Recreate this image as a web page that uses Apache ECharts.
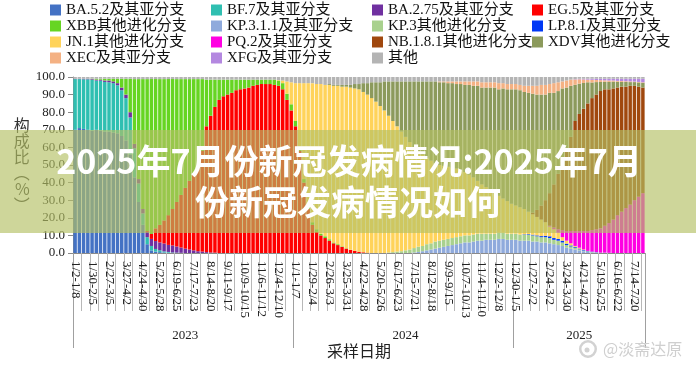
<!DOCTYPE html>
<html><head><meta charset="utf-8">
<script src="https://cdn.jsdelivr.net/npm/echarts@6/dist/echarts.min.js"></script>
<style>html,body{margin:0;padding:0;background:#fff}#c{width:696px;height:365px}</style>
</head><body><div id="c"></div>
<script>
const weeks = [
'1/2-1/8','1/9-1/15','1/16-1/22','1/23-1/29','1/30-2/5','2/6-2/12','2/13-2/19','2/20-2/26','2/27-3/5','3/6-3/12',
'3/13-3/19','3/20-3/26','3/27-4/2','4/3-4/9','4/10-4/16','4/17-4/23','4/24-4/30','5/1-5/7','5/8-5/14','5/15-5/21',
'5/22-5/28','5/29-6/4','6/5-6/11','6/12-6/18','6/19-6/25','6/26-7/2','7/3-7/9','7/10-7/16','7/17-7/23','7/24-7/30',
'7/31-8/6','8/7-8/13','8/14-8/20','8/21-8/27','8/28-9/3','9/4-9/10','9/11-9/17','9/18-9/24','9/25-10/1','10/2-10/8',
'10/9-10/15','10/16-10/22','10/23-10/29','10/30-11/5','11/6-11/12','11/13-11/19','11/20-11/26','11/27-12/3','12/4-12/10','12/11-12/17',
'12/18-12/24','12/25-12/31','1/1-1/7','1/8-1/14','1/15-1/21','1/22-1/28','1/29-2/4','2/5-2/11','2/12-2/18','2/19-2/25',
'2/26-3/3','3/4-3/10','3/11-3/17','3/18-3/24','3/25-3/31','4/1-4/7','4/8-4/14','4/15-4/21','4/22-4/28','4/29-5/5',
'5/6-5/12','5/13-5/19','5/20-5/26','5/27-6/2','6/3-6/9','6/10-6/16','6/17-6/23','6/24-6/30','7/1-7/7','7/8-7/14',
'7/15-7/21','7/22-7/28','7/29-8/4','8/5-8/11','8/12-8/18','8/19-8/25','8/26-9/1','9/2-9/8','9/9-9/15','9/16-9/22',
'9/23-9/29','9/30-10/6','10/7-10/13','10/14-10/20','10/21-10/27','10/28-11/3','11/4-11/10','11/11-11/17','11/18-11/24','11/25-12/1',
'12/2-12/8','12/9-12/15','12/16-12/22','12/23-12/29','12/30-1/5','1/6-1/12','1/13-1/19','1/20-1/26','1/27-2/2','2/3-2/9',
'2/10-2/16','2/17-2/23','2/24-3/2','3/3-3/9','3/10-3/16','3/17-3/23','3/24-3/30','3/31-4/6','4/7-4/13','4/14-4/20',
'4/21-4/27','4/28-5/4','5/5-5/11','5/12-5/18','5/19-5/25','5/26-6/1','6/2-6/8','6/9-6/15','6/16-6/22','6/23-6/29',
'6/30-7/6','7/7-7/13','7/14-7/20','7/21-7/27','7/28-8/3'];
const years = ['2023','2024','2025'];
const yearWeeks = [52, 52, 31];
const names = ['BA.5.2及其亚分支','BF.7及其亚分支','BA.2.75及其亚分支','EG.5及其亚分支',
 'XBB其他进化分支','KP.3.1.1及其亚分支','KP.3其他进化分支','LP.8.1及其亚分支',
 'JN.1其他进化分支','PQ.2及其亚分支','NB.1.8.1其他进化分支','XDV其他进化分支',
 'XEC及其亚分支','XFG及其亚分支','其他'];
const colors = ['#4472C4','#2FBFB1','#7030A0','#FF0000','#66D522','#8FAADC','#A9D18E','#0038F5',
 '#FFD35A','#FF00E2','#A0480E','#8C9A5C','#F4B183','#B488E0','#B4B4B4'];

const BA52 = [
70,71,70.5,70,69.5,70,69.5,69,69,68.5,
68,66.5,64,56,43,29,16,5,1.5,0.8,
0.5,0.3,0.2,0,0,0,0,0,0,0,
0,0,0,0,0,0,0,0,0,0, 0,0,0,0,0,0,0,0,0,0, 0,0,0,0,0,0,0,0,0,0,
0,0,0,0,0,0,0,0,0,0, 0,0,0,0,0,0,0,0,0,0, 0,0,0,0,0,0,0,0,0,0,
0,0,0,0,0,0,0,0,0,0, 0,0,0,0,0,0,0,0,0,0, 0,0,0,0,0,0,0,0,0,0,
0,0,0,0,0,0,0,0,0,0, 0,0,0,0,0];
const BF7 = [
28.8,27.8,28.2,28.7,28.9,28,28.4,28.2,28,28,
27.3,26,24,21,16.5,10.5,6.5,4,2.5,1.5,
1,0.6,0.4,0.3,0.2,0.1,0,0,0,0,
0,0,0,0,0,0,0,0,0,0, 0,0,0,0,0,0,0,0,0,0, 0,0,0,0,0,0,0,0,0,0,
0,0,0,0,0,0,0,0,0,0, 0,0,0,0,0,0,0,0,0,0, 0,0,0,0,0,0,0,0,0,0,
0,0,0,0,0,0,0,0,0,0, 0,0,0,0,0,0,0,0,0,0, 0,0,0,0,0,0,0,0,0,0,
0,0,0,0,0,0,0,0,0,0, 0,0,0,0,0];
const BA275 = [
0.2,0.2,0.3,0.3,0.4,0.5,0.6,0.8,1,1,
1.2,1.5,2,3,2.5,2.5,2.5,3,4,4.5,
4.5,4.5,4,4,3.5,3,2.5,2,1.5,1,
0.8,0.5,0.3,0.2,0,0,0,0,0,0,
0,0,0,0,0,0,0,0,0,0, 0,0,0,0,0,0,0,0,0,0,
0,0,0,0,0,0,0,0,0,0, 0,0,0,0,0,0,0,0,0,0, 0,0,0,0,0,0,0,0,0,0,
0,0,0,0,0,0,0,0,0,0, 0,0,0,0,0,0,0,0,0,0, 0,0,0,0,0,0,0,0,0,0,
0,0,0,0,0,0,0,0,0,0, 0,0,0,0,0];
const EG5 = [
0,0,0,0,0,0,0,0,0,0,
0,0,0,0,0,0,0,0.5,3,7.2,
10,13.1,16.9,20.7,25.3,29.9,34.5,39,43.5,48.5,
57.2,71.5,77.7,82.8,87,89,90,91,92.5,93,
93.5,94,95,95.5,96,96,96,95.5,95,93,
87,81,72,58,40,25,16,12,10,8.5,
7,5.5,4.5,3.5,2.5,1.8,1.2,0.7,0.4,0.2,
0,0,0,0,0,0,0,0,0,0, 0,0,0,0,0,0,0,0,0,0, 0,0,0,0,0,0,0,0,0,0,
0,0,0,0,0,0,0,0,0,0, 0,0,0,0,0,0,0,0,0,0, 0,0,0,0,0,0,0,0,0,0,
0,0,0,0,0];
const XBB = [
0,0,0,0,0.2,0.5,0.5,1,1,1.5,
2.5,5,9,19,36.8,56.8,73.8,86.3,87.8,84.8,
82.8,80.3,77.3,73.8,69.8,65.8,61.8,57.8,53.8,49.3,
40.8,26.5,20.5,15.5,11.5,9.5,8.5,7.5,6,5.5,
5,4.5,3.5,3,2.5,2.5,2.5,3,3,3.5,
3.5,3.5,3,2.5,2,2,1.5,1.5,1,1,
0.8,0.5,0.5,0.3,0.2,0,0,0,0,0,
0,0,0,0,0,0,0,0,0,0, 0,0,0,0,0,0,0,0,0,0, 0,0,0,0,0,0,0,0,0,0,
0,0,0,0,0,0,0,0,0,0, 0,0,0,0,0,0,0,0,0,0, 0,0,0,0,0,0,0,0,0,0,
0,0,0,0,0];
const KP311 = [
0,0,0,0,0,0,0,0,0,0, 0,0,0,0,0,0,0,0,0,0, 0,0,0,0,0,0,0,0,0,0,
0,0,0,0,0,0,0,0,0,0, 0,0,0,0,0,0,0,0,0,0, 0,0,0,0,0,0,0,0,0,0,
0,0,0,0,0,0,0,0,0,0, 0,0,0,0,0,0,0,0,0,0,
0.3,0.6,1,1.5,2,2.5,3,3.5,4,4.5,
5,5.5,6,6,6.5,7,7,7.5,7.5,7.5,
8,8,7.5,7.5,7.5,7,7,7,6.5,6.5,
6,6,5.5,5,4.5,4,3,2.5,2,1.5,
1,0.6,0.4,0.3,0.2,0.2,0.1,0,0,0,
0,0,0,0,0];
const KP3 = [
0,0,0,0,0,0,0,0,0,0, 0,0,0,0,0,0,0,0,0,0, 0,0,0,0,0,0,0,0,0,0,
0,0,0,0,0,0,0,0,0,0, 0,0,0,0,0,0,0,0,0,0, 0,0,0,0,0,0,0,0,0,0,
0,0,0,0,0,0,0,0,0,0,
0,0,0,0,0.3,0.5,0.8,1,1.5,2,
2.5,3,3,3.5,3.5,4,4,4,4,4,
4,4,4,4,4,4,4,3.5,3.5,3.5,
3.5,3.5,3.5,3.5,3.5,3.5,3.5,3.5,3.5,3,
3,3,3,2.5,2.5,2,1.5,1.2,1,0.6,
0.4,0.3,0.2,0.1,0,0,0,0,0,0,
0,0,0,0,0];
const LP81 = [
0,0,0,0,0,0,0,0,0,0, 0,0,0,0,0,0,0,0,0,0, 0,0,0,0,0,0,0,0,0,0,
0,0,0,0,0,0,0,0,0,0, 0,0,0,0,0,0,0,0,0,0, 0,0,0,0,0,0,0,0,0,0,
0,0,0,0,0,0,0,0,0,0, 0,0,0,0,0,0,0,0,0,0, 0,0,0,0,0,0,0,0,0,0,
0,0,0,0,0,0,0,0,0,0,
0,0,0,0,0,0,0.2,0.3,0.4,0.5,
0.6,0.8,1,1,1,1,0.8,0.6,0.5,0.4,
0.3,0.2,0.2,0.1,0,0,0,0,0,0,
0,0,0,0,0];
const JN1 = [
0,0,0,0,0,0,0,0,0,0, 0,0,0,0,0,0,0,0,0,0, 0,0,0,0,0,0,0,0,0,0,
0,0,0,0,0,0,0,0,0,0,
0,0,0,0,0,0,0,0,0.3,1.5,
7,12.5,21.5,36,54.5,69.5,79,82.5,85,86,
87.7,89,90,90.7,91.8,92.2,92.3,92.3,91.1,89.8,
88,86,83.5,81,77.7,74.5,71.2,68,64.5,61,
57.2,54.4,52,49,47,44.5,43,42,41,40,
39,37.5,36,34.5,32.5,30,28,26.5,25,23,
21,19.5,18.5,17,16,15.5,14.3,12.7,11.6,10.5,
9.4,7.7,5.5,5,3.5,2,1.7,1.2,0.5,0.5,
0.3,0.1,0,0,0,0,0,0,0,0,
0,0,0,0,0];
const PQ2 = [
0,0,0,0,0,0,0,0,0,0, 0,0,0,0,0,0,0,0,0,0, 0,0,0,0,0,0,0,0,0,0,
0,0,0,0,0,0,0,0,0,0, 0,0,0,0,0,0,0,0,0,0, 0,0,0,0,0,0,0,0,0,0,
0,0,0,0,0,0,0,0,0,0, 0,0,0,0,0,0,0,0,0,0, 0,0,0,0,0,0,0,0,0,0,
0,0,0,0,0,0,0,0,0,0, 0,0,0,0,0,0,0,0,0,0,
0,0,0.5,1,2,4,5.5,7,8.5,9.5,
10.5,11.3,12.2,13,13.8,15.3,16.9,19,21.5,23.5,
25.5,27.5,30,32,34];
const NB181 = [
0,0,0,0,0,0,0,0,0,0, 0,0,0,0,0,0,0,0,0,0, 0,0,0,0,0,0,0,0,0,0,
0,0,0,0,0,0,0,0,0,0, 0,0,0,0,0,0,0,0,0,0, 0,0,0,0,0,0,0,0,0,0,
0,0,0,0,0,0,0,0,0,0, 0,0,0,0,0,0,0,0,0,0, 0,0,0,0,0,0,0,0,0,0,
0,0,0,0,0,0,0,0,0,0,
0,0,0,0,0,0,0,0,1,4,
8,12.5,18.5,24.5,31.5,39,46.5,53.5,62.5,66.5,
69.5,72.5,75,76.5,78,77.5,76,74.5,72.5,71,
69,67.5,65,62.5,60];
const XDV = [
0,0,0,0,0,0,0,0,0,0, 0,0,0,0,0,0,0,0,0,0, 0,0,0,0,0,0,0,0,0,0,
0,0,0,0,0,0,0,0,0,0, 0,0,0,0,0,0,0,0,0,0, 0,0,0,0,0,0,0,0,0,0,
0.5,0.5,0.5,1,1,1.5,2.5,3,5,6.5,
9,11,13.5,16.5,19.5,22.5,25.5,28.5,31.5,34.5,
37.5,39.5,41.5,43.5,45,46.5,47,47.5,47.5,48,
48,49,49.5,51,52,54,55,56.5,58,60,
60.5,62.5,63.5,65,66,66.5,66.5,67.5,67.5,65.5,
63,60,57,52,47,41.5,35,29,20.6,17.2,
14.6,12,8.9,7.1,5.2,4.3,4.2,3.9,3.3,2.7,
2.7,2.1,2.1,2.4,2.7];
const XEC = [
0,0,0,0,0,0,0,0,0,0, 0,0,0,0,0,0,0,0,0,0, 0,0,0,0,0,0,0,0,0,0,
0,0,0,0,0,0,0,0,0,0, 0,0,0,0,0,0,0,0,0,0, 0,0,0,0,0,0,0,0,0,0,
0,0,0,0,0,0,0,0,0,0, 0,0,0,0,0,0,0,0,0,0,
0,0,0,0,0,0,0.5,0.5,1,1,
1.5,1.5,2,2,2.5,2.5,3,3,3,3,
3.5,3,3,3,3,3,3.5,4,4.5,5,
5.5,5.5,5,5.5,5,4,4,3.5,3,2.5,
2,1.5,1.5,1.2,1,0.8,0.8,0.6,0.5,0.5,
0.4,0.4,0.3,0.3,0.3];
const XFG = [
0,0,0,0,0,0,0,0,0,0, 0,0,0,0,0,0,0,0,0,0, 0,0,0,0,0,0,0,0,0,0,
0,0,0,0,0,0,0,0,0,0, 0,0,0,0,0,0,0,0,0,0, 0,0,0,0,0,0,0,0,0,0,
0,0,0,0,0,0,0,0,0,0, 0,0,0,0,0,0,0,0,0,0, 0,0,0,0,0,0,0,0,0,0,
0,0,0,0,0,0,0,0,0,0, 0,0,0,0,0,0,0,0,0,0,
0,0,0,0,0,0,0,0,0.2,0.3,
0.4,0.5,0.6,0.7,0.8,0.9,1,1,1.2,1.3,
1.4,1.5,1.6,1.8,2];
const OTHER = [
1,1,1,1,1,1,1,1,1,1,
1,1,1,1,1.2,1.2,1.2,1.2,1.2,1.2,
1.2,1.2,1.2,1.2,1.2,1.2,1.2,1.2,1.2,1.2,
1.2,1.5,1.5,1.5,1.5,1.5,1.5,1.5,1.5,1.5,
1.5,1.5,1.5,1.5,1.5,1.5,1.5,1.5,1.7,2,
2.5,3,3.5,3.5,3.5,3.5,3.5,4,4,4.5,
4,4.5,4.5,4.5,4.5,4.5,4,4,3.5,3.5,
3,3,3,2.5,2.5,2.5,2.5,2.5,2.5,2.5,
2.5,2.5,2.5,2.5,2.5,2.5,2.5,2.5,2.5,2.5,
2.5,2.5,2.5,2.5,2.5,2.5,3,3,3,3,
3.5,3.5,4,4,4,4.5,5,5,5,5,
4.5,4.5,4,3.5,3,2.5,2,1.5,1.2,1,
1,1,1,1,1,1,1,1,1,1,
1,1,1,1,1];

const values = [BA52,BF7,BA275,EG5,XBB,KP311,KP3,LP81,JN1,PQ2,NB181,XDV,XEC,XFG,OTHER];

// year grouping for the second-level axis
const yearStart = []; let acc = 0;
yearWeeks.forEach(n => { yearStart.push(acc); acc += n; });
const yearMid = yearStart.map((s, k) => s + Math.floor(yearWeeks[k] / 2));

const serif = "'Liberation Serif','Times New Roman','Noto Sans CJK SC',serif";
const cjk = "'Noto Sans CJK SC','Noto Sans',sans-serif";

const legendCols = [
  {left: 50, data: [names[0], names[4], names[8], names[12]]},
  {left: 211, data: [names[1], names[5], names[9], names[13]]},
  {left: 372, data: [names[2], names[6], names[10], names[14]]},
  {left: 532, data: [names[3], names[7], names[11]]}
];

const chart = echarts.init(document.getElementById('c'), null, {renderer: 'canvas'});
chart.setOption({
  animation: false,
  backgroundColor: '#ffffff',
  legend: legendCols.map(c => ({
    orient: 'vertical', left: c.left, top: 2, padding: 0, itemGap: 0,
    itemWidth: 11, itemHeight: 11, icon: 'rect', selectedMode: false,
    data: c.data,
    textStyle: {fontFamily: serif, fontSize: 15, color: '#111', lineHeight: 16}
  })),
  grid: {left: 73, right: 51, top: 77, bottom: 112, containLabel: false},
  xAxis: [{
    type: 'category', data: weeks, position: 'bottom',
    axisLine: {show: true, lineStyle: {color: '#8a8a8a'}},
    axisTick: {show: true, interval: 1, length: 58, lineStyle: {color: '#b8b8b8'}},
    axisLabel: {interval: 3, rotate: -90, margin: 8, fontFamily: serif, fontSize: 13, color: '#222'}
  }, {
    type: 'category', data: weeks, position: 'bottom',
    axisLine: {show: false},
    axisTick: {show: true, length: 95, lineStyle: {color: '#a0a0a0'},
      interval: (idx) => yearStart.indexOf(idx) >= 0},
    axisLabel: {margin: 76, fontFamily: serif, fontSize: 13, color: '#222',
      interval: (idx) => yearMid.indexOf(idx) >= 0,
      formatter: (v, idx) => { const k = yearMid.indexOf(idx); return k >= 0 ? years[k] : ''; }},
    name: '采样日期', nameLocation: 'middle', nameGap: 88,
    nameTextStyle: {fontFamily: cjk, fontSize: 16, color: '#222'}
  }],
  yAxis: {
    type: 'value', min: 0, max: 100, interval: 10,
    axisLine: {show: true, lineStyle: {color: '#8a8a8a'}},
    axisTick: {show: true, length: 5, lineStyle: {color: '#8a8a8a'}},
    splitLine: {show: false},
    axisLabel: {margin: 8, fontFamily: serif, fontSize: 13, color: '#222', formatter: v => v.toFixed(1)},
    name: '构\n成\n比\n︵\n%\n︶', nameLocation: 'middle', nameRotate: 0, nameGap: 26,
    nameTextStyle: {fontFamily: cjk, fontSize: 16, lineHeight: 16, color: '#333'}
  },
  series: names.map((n, k) => ({
    name: n, type: 'bar', stack: 'total', xAxisIndex: 0, data: values[k],
    barCategoryGap: '18%', itemStyle: {color: colors[k]},
    emphasis: {disabled: true}
  })),
  graphic: [
    {type: 'rect', z: 100, shape: {x: 0, y: 130, width: 696, height: 103},
     style: {fill: 'rgba(180,192,100,0.65)'}},
    {type: 'text', z: 101, style: {x: 349, y: 161, text: '2025年7月份新冠发病情况:2025年7月',
      textAlign: 'center', textVerticalAlign: 'middle', fill: '#ffffff',
      font: "bold 34px 'Noto Sans CJK SC'", shadowBlur: 4, shadowColor: 'rgba(0,0,0,0.35)', shadowOffsetX: 1, shadowOffsetY: 1}},
    {type: 'text', z: 101, style: {x: 348, y: 202, text: '份新冠发病情况如何',
      textAlign: 'center', textVerticalAlign: 'middle', fill: '#ffffff',
      font: "bold 34px 'Noto Sans CJK SC'", shadowBlur: 4, shadowColor: 'rgba(0,0,0,0.35)', shadowOffsetX: 1, shadowOffsetY: 1}},
    {type: 'ring', z: 101, shape: {cx: 588, cy: 349, r: 9, r0: 6.5}, style: {fill: '#d2d2d2'}},
    {type: 'circle', z: 101, shape: {cx: 587, cy: 350, r: 2.5}, style: {fill: '#d2d2d2'}},
    {type: 'text', z: 101, style: {x: 603, y: 349, text: '@淡斋达原', textAlign: 'left', textVerticalAlign: 'middle',
      fill: '#cfcfcf', font: "16px 'Noto Sans CJK SC'", shadowBlur: 2, shadowColor: 'rgba(0,0,0,0.25)'}}
  ]
});
</script></body></html>
